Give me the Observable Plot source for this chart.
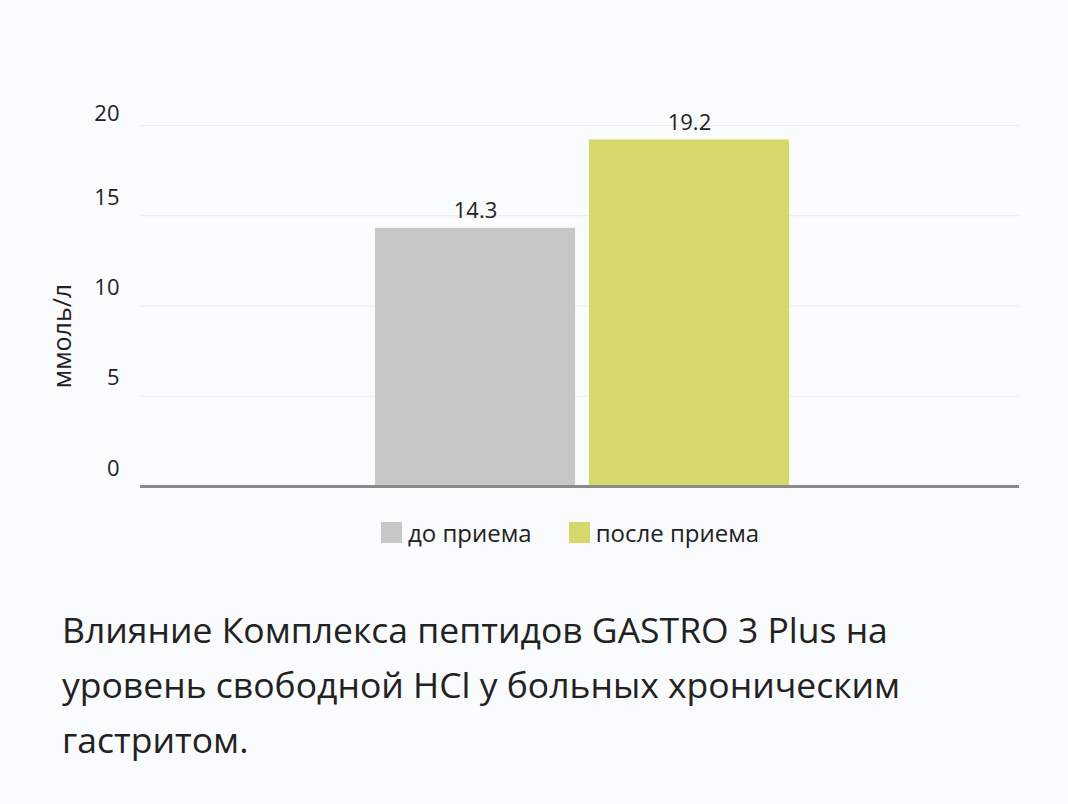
<!DOCTYPE html>
<html>
<head>
<meta charset="utf-8">
<script src="https://cdn.jsdelivr.net/npm/d3@7"></script>
<script src="https://cdn.jsdelivr.net/npm/@observablehq/plot@0.6"></script>
<style>
  html, body { margin: 0; padding: 0; background: #fafbfd; }
  body { width: 1068px; height: 804px; overflow: hidden; font-family: "Open Sans", sans-serif; color: #222; }
  #legend { display: flex; align-items: center; margin-left: 381px; margin-top: 21px; height: 22px; font-size: 24px; }
  .sw { width: 21px; height: 21px; display: inline-block; }
  .item { display: flex; align-items: center; }
  .item span.t { margin-left: 6px; }
  #caption { margin-left: 62px; margin-top: 59px; font-size: 35.5px; line-height: 55px; color: #222; }
</style>
</head>
<body>
<div id="chart"></div>
<div id="legend"></div>
<div id="caption">Влияние Комплекса пептидов GASTRO 3 Plus на<br>уровень свободной HCl у больных хроническим<br>гастритом.</div>
<script>
const categories = ["до приема", "после приема"];
const values = [14.3, 19.2];
const colors = ["#c7c7c7", "#d5d96b"];
const yTicks = [0, 5, 10, 15, 20];
const yLabel = "ммоль/л";

const data = categories.map((c, i) => ({cat: c, value: values[i], color: colors[i]}));
const topTick = yTicks[yTicks.length - 1];

const chart = Plot.plot({
  width: 1068,
  height: 500,
  marginTop: 125,
  marginBottom: 14,
  marginLeft: 140,
  marginRight: 49,
  style: {background: "transparent", fontFamily: "Open Sans, sans-serif", color: "#222"},
  x: {domain: categories, range: [375, 789], paddingInner: 0.065, paddingOuter: 0, round: false, axis: null},
  y: {domain: [0, 20], axis: null},
  marks: [
    Plot.ruleY(yTicks.filter(d => d > 0), {stroke: "#ebebee", strokeWidth: 1.2}),
    Plot.axisY(yTicks.filter(d => d < topTick), {tickSize: 0, tickPadding: 21, dy: -18, fontSize: 22, label: null, fill: "#222"}),
    Plot.axisY([topTick], {tickSize: 0, tickPadding: 21, dy: -12, fontSize: 22, label: null, fill: "#222"}),
    Plot.text([yLabel], {frameAnchor: "left", rotate: -90, dx: -78, dy: 30, textAnchor: "middle", lineAnchor: "middle", fontSize: 25, fill: "#222"}),
    Plot.barY(data, {x: "cat", y: "value", fill: "color"}),
    Plot.text(data, {x: "cat", y: "value", text: d => d.value.toFixed(1), lineAnchor: "bottom", dy: -10, fontSize: 22, fill: "#222"}),
    Plot.ruleY([0], {stroke: "#8a8a8a", strokeWidth: 3})
  ]
});
document.getElementById("chart").appendChild(chart);

const legend = document.getElementById("legend");
categories.forEach((c, i) => {
  const it = document.createElement("div");
  it.className = "item";
  if (i > 0) it.style.marginLeft = "37px";
  const sw = document.createElement("span");
  sw.className = "sw";
  sw.style.background = colors[i];
  const t = document.createElement("span");
  t.className = "t";
  t.textContent = c;
  it.appendChild(sw); it.appendChild(t);
  legend.appendChild(it);
});
</script>
</body>
</html>
